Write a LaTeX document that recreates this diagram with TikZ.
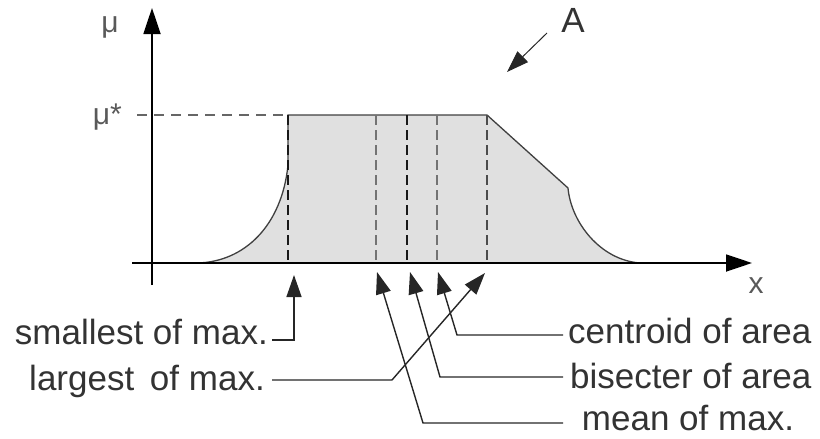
\documentclass[tikz,border=0pt]{standalone}
\usepackage{fontspec}
\setmainfont{Liberation Sans}
\usetikzlibrary{arrows.meta}
\begin{document}
\begin{tikzpicture}[x=1pt,y=-1pt,
  lbl/.style={font=\fontsize{35}{40}\selectfont, text=black!80, inner sep=0pt},
  axlbl/.style={font=\fontsize{30}{34}\selectfont, text=black!65, inner sep=0pt},
  arr/.style={line width=1.4pt, draw=black!85, -{Triangle[length=22pt,width=15pt]}},
  axis/.style={line width=1.8pt, draw=black, -{Triangle[length=26pt,width=17pt]}},
  vdash/.style={line width=2pt, dash pattern=on 10pt off 5pt},
  curve/.style={line width=1.3pt, draw=black!75},
]
\useasboundingbox (0,0) rectangle (820,439);
% shaded fuzzy set
\fill[black!12] (197,263) .. controls (245,262) and (282,225) .. (288,165) -- (288,115) -- (487,115) -- (568,188) .. controls (571,222) and (600,260) .. (640,263) -- cycle;
\draw[curve] (197,263) .. controls (245,262) and (282,225) .. (288,165) -- (288,115) -- (487,115) -- (568,188) .. controls (571,222) and (600,260) .. (640,263);
% axes
\coordinate (xs) at (132,263);
\coordinate (xe) at (752,263);
\coordinate (ys) at (152,285);
\coordinate (ye) at (152,8);
\draw[axis] (xs) -- (xe);
\draw[axis] (ys) -- (ye);
\node[axlbl] (mu) at (110,27) {μ};
\node[axlbl, anchor=east] (mustar) at (122,117) {μ*};
\node[axlbl] (xl) at (756,286) {x};
% mu* level
\coordinate (ms) at (137,115);
\coordinate (p1) at (288,115);
\draw[line width=1.5pt, black!60, dash pattern=on 10pt off 7pt] (ms) -- (p1);
% vertical dashed lines
\coordinate (t1) at (288,115); \coordinate (b1) at (288,263);
\coordinate (t2) at (376,115); \coordinate (b2) at (376,263);
\coordinate (t3) at (407,115); \coordinate (b3) at (407,263);
\coordinate (t4) at (437,115); \coordinate (b4) at (437,263);
\coordinate (t5) at (487,115); \coordinate (b5) at (487,263);
\draw[vdash, black!90] (t1) -- (b1);
\draw[vdash, black!55] (t2) -- (b2);
\draw[vdash, black!90] (t3) -- (b3);
\draw[vdash, black!55] (t4) -- (b4);
\draw[vdash, black!70] (t5) -- (b5);
% label A
\node[lbl] (A) at (573,20) {A};
\coordinate (Ae) at (507,72);
\draw[arr, line width=1pt] (547,33) -- (Ae);
% arrow tips
\coordinate (asm) at (294,275);
\coordinate (ame) at (377,272);
\coordinate (abi) at (410,272);
\coordinate (ace) at (438,272);
\coordinate (ala) at (485,273);
% texts
\node[lbl, anchor=base east] (sm) at (268,344) {smallest of max.};
\node[lbl, anchor=base east] (la) at (265,390) {largest\hspace{0.45em}of max.};
\node[lbl, anchor=base west] (ce) at (568,343) {centroid of area};
\node[lbl, anchor=base west] (bi) at (570,388) {bisecter of area};
\node[lbl, anchor=base] (me) at (688,430) {mean of max.};
% connectors
\draw[arr] (272,340) -| (asm);
\draw[arr] (272,380) -- (392,380) -- (ala);
\draw[arr] (563,335) -- (457,335) -- (ace);
\draw[arr] (563,377) -- (440,377) -- (abi);
\draw[arr] (563,423) -- (423,423) -- (ame);
\end{tikzpicture}
\end{document}
